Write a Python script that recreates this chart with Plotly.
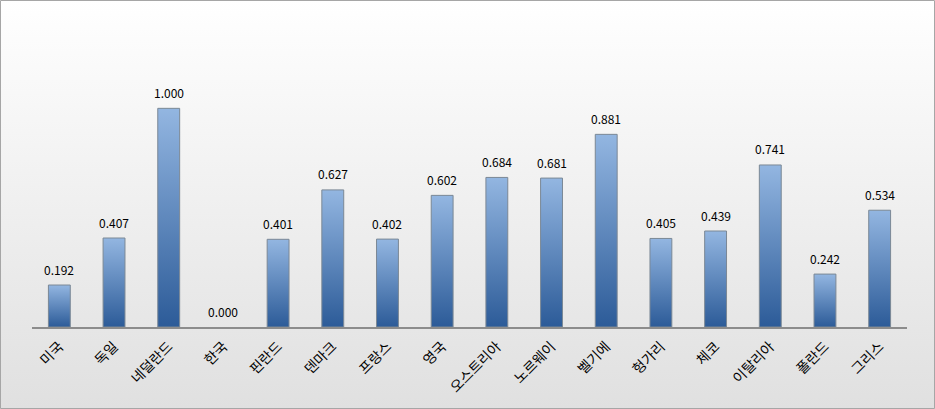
import plotly.graph_objects as go

categories = ["미국", "독일", "네덜란드", "한국", "핀란드", "덴마크", "프랑스", "영국",
              "오스트리아", "노르웨이", "벨기에", "헝가리", "체코", "이탈리아", "폴란드", "그리스"]
values = [0.192, 0.407, 1.000, 0.000, 0.401, 0.627, 0.402, 0.602,
          0.684, 0.681, 0.881, 0.405, 0.439, 0.741, 0.242, 0.534]

W, H = 935, 409
BAR_W = 0.4
FONT = "Noto Sans CJK KR"

fig = go.Figure()

# background gradient on full-paper helper axes
fig.add_trace(go.Scatter(
    x=[0, 1, 1, 0, 0], y=[0, 0, 1, 1, 0], mode="lines", line=dict(width=0),
    fill="toself", fillgradient=dict(type="vertical", colorscale=[[0, "#e0e0e0"], [1, "#ffffff"]]),
    xaxis="x", yaxis="y", hoverinfo="skip", showlegend=False))

for i, v in enumerate(values):
    if v <= 0:
        continue
    fig.add_trace(go.Scatter(
        x=[i - BAR_W / 2, i + BAR_W / 2, i + BAR_W / 2, i - BAR_W / 2, i - BAR_W / 2],
        y=[0, 0, v, v, 0], mode="lines", line=dict(color="#7b8895", width=1),
        fill="toself",
        fillgradient=dict(type="vertical", colorscale=[[0, "#2c5b98"], [1, "#93b6e1"]], start=0, stop=v),
        xaxis="x2", yaxis="y2", hoverinfo="skip", showlegend=False))

annotations = []
for i, v in enumerate(values):
    annotations.append(dict(x=i, y=v, xref="x2", yref="y2", text=f"{v:.3f}", showarrow=False,
                            yshift=16, font=dict(family=FONT, size=12, color="#000000")))

fig.update_layout(
    width=W, height=H, margin=dict(l=0, r=0, t=0, b=0),
    paper_bgcolor="#ffffff", plot_bgcolor="rgba(0,0,0,0)",
    showlegend=False,
    xaxis=dict(domain=[0, 1], range=[0, 1], visible=False, fixedrange=True),
    yaxis=dict(domain=[0, 1], range=[0, 1], visible=False, fixedrange=True),
    xaxis2=dict(domain=[32 / W, 907 / W], range=[-0.5, len(categories) - 0.5], anchor="y2",
                tickmode="array", tickvals=list(range(len(categories))), ticktext=categories,
                tickangle=-45, showgrid=False, zeroline=False, showline=True,
                linecolor="#8c8c8c", linewidth=2, ticks="", ticklabelstandoff=4,
                tickfont=dict(family=FONT, size=14, color="#000000")),
    yaxis2=dict(domain=[(H - 327) / H, (H - 64.6) / H], range=[0, 1.2], anchor="x2",
                visible=False, showgrid=False, zeroline=False),
    annotations=annotations,
    shapes=[dict(type="rect", xref="paper", yref="paper", x0=0.5 / W, x1=1 - 0.5 / W,
                 y0=0.5 / H, y1=1 - 0.5 / H, line=dict(color="#a6a6a6", width=1))],
)

fig.write_html("out.html")
